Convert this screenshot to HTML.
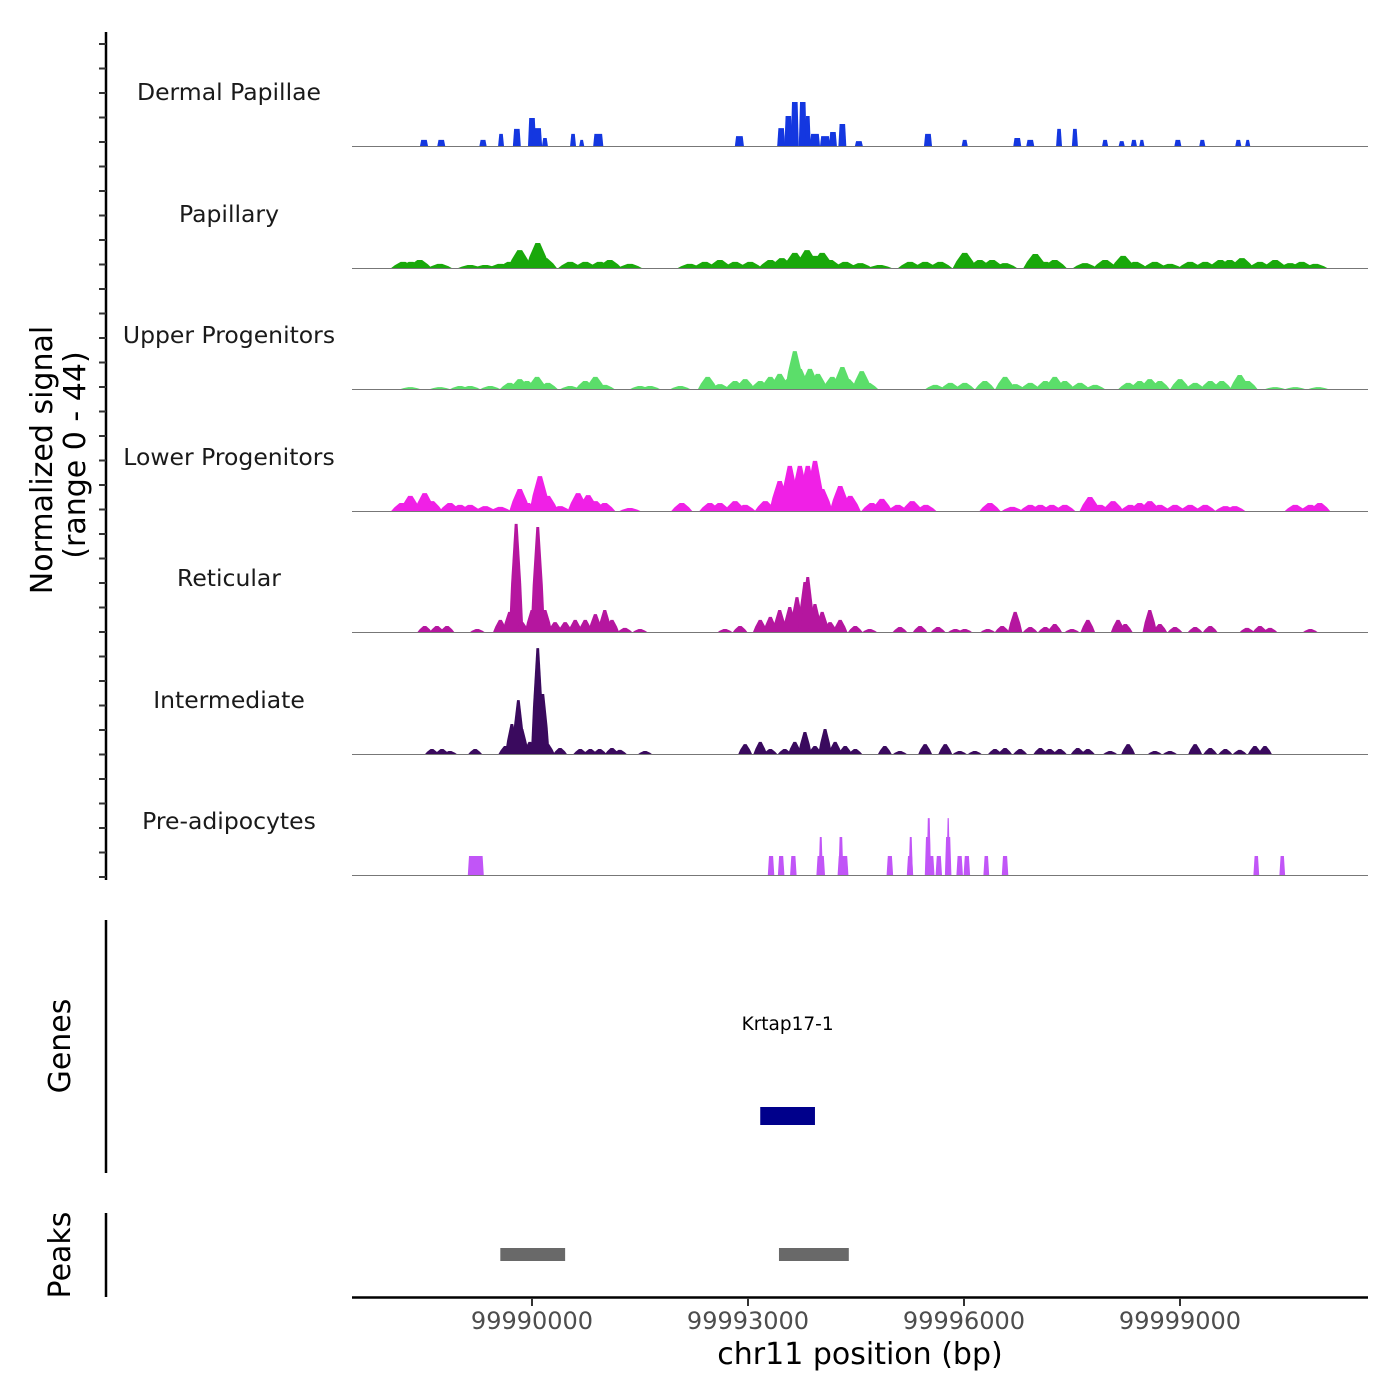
<!DOCTYPE html>
<html><head><meta charset="utf-8"><title>Coverage plot</title>
<style>
html,body{margin:0;padding:0;background:#fff;}
svg{display:block;font-family:"DejaVu Sans","Liberation Sans",sans-serif;}
</style></head>
<body>
<svg id="chart" width="1400" height="1400" viewBox="0 0 1400 1400" xmlns="http://www.w3.org/2000/svg">
<g id="tracks"></g>
<g id="axes"></g>
</svg>
<script>
const trackNames = ["Dermal Papillae","Papillary","Upper Progenitors","Lower Progenitors","Reticular","Intermediate","Pre-adipocytes"];
const trackColors = ["#1437e0","#19a80b","#5bde6a","#f020e6","#b5169f","#3a0a5e","#c155f7"];

const dpPos = [99988500,99988740,99989320,99989570,99989790,99990000,99990070,99990180,99990570,99990690,99990920,99992880,99993460,99993560,99993650,99993760,99993830,99993930,99994070,99994180,99994310,99994540,99995500,99996010,99996740,99996920,99997320,99997540,99997960,99998190,99998360,99998470,99998970,99999310,99999810,99999940];
const dpVal = [2.2,2.2,2.2,4.4,6.2,10.2,6.5,2.9,4.4,2.2,4.4,3.6,6.5,10.9,16,16,10.9,4.4,3.6,5.1,8,1.8,4.4,2.2,2.9,2.2,6.2,6.2,2.2,1.8,2.2,2.2,2.2,2.2,2.2,2.2];
const dpWidth = [110,110,100,83,110,110,140,83,83,70,140,125,110,110,110,110,83,140,140,110,110,110,110,83,110,110,83,83,83,83,83,70,97,83,83,70];

const papPos = [99988210,99988320,99988440,99988720,99989140,99989350,99989560,99989690,99989830,99990080,99990180,99990530,99990740,99990940,99991080,99991360,99992190,99992400,99992610,99992820,99993030,99993310,99993470,99993650,99993820,99993930,99994030,99994140,99994350,99994560,99994830,99995250,99995460,99995670,99996010,99996220,99996390,99996570,99996990,99997130,99997260,99997680,99997960,99998210,99998380,99998650,99998860,99999140,99999350,99999560,99999690,99999860,100000110,100000320,100000530,100000690,100000880];
const papVal = [2.2,2.2,2.9,1.5,1.1,1.1,1.5,2.2,6.5,9.1,3.6,2.2,2.2,2.2,2.9,1.5,1.5,2.2,2.9,2.2,2.2,2.9,3.6,5.5,6.5,4.4,5.5,2.9,2.2,1.8,1.1,2.2,2.2,2.2,5.5,2.9,2.9,1.8,5.1,2.2,2.9,1.8,2.9,4.4,2.2,2.2,1.5,2.2,2.2,2.9,2.9,3.6,2.2,2.9,1.8,2.2,1.5];

const upPos = [99988310,99988720,99989000,99989140,99989420,99989690,99989830,99989930,99990070,99990220,99990530,99990740,99990880,99991010,99991500,99991640,99992060,99992440,99992610,99992820,99992960,99993170,99993310,99993440,99993560,99993650,99993720,99993860,99993970,99994170,99994310,99994390,99994580,99994670,99995600,99995810,99996010,99996290,99996570,99996710,99996920,99997130,99997260,99997400,99997610,99997820,99998280,99998440,99998580,99998720,99999000,99999210,99999420,99999580,99999830,99999940,100000320,100000600,100000920];
const upVal = [0.7,0.7,1.1,1.1,1.1,2.2,3.6,2.9,4.4,2.2,1.1,2.9,4.4,1.5,1.1,1.1,1.1,4.4,1.8,2.9,3.6,2.9,4.4,5.5,3.6,13.8,7.3,7.3,5.5,4.4,8,3.6,6.5,2.2,1.5,2.2,2.2,2.9,4.4,1.8,2.2,2.9,4.4,2.9,2.2,1.5,2.2,2.9,3.6,2.9,3.6,2.2,2.9,2.9,5.1,2.9,0.7,0.7,0.7];

const lpPos = [99988190,99988310,99988510,99988610,99988860,99989000,99989140,99989350,99989560,99989830,99989940,99990110,99990220,99990390,99990640,99990780,99990880,99991010,99991360,99992080,99992470,99992610,99992820,99992960,99993240,99993440,99993580,99993720,99993830,99993930,99994030,99994280,99994420,99994720,99994860,99995080,99995280,99995470,99996360,99996670,99996920,99997060,99997220,99997400,99997750,99997890,99998070,99998310,99998440,99998580,99998720,99998930,99999140,99999350,99999630,99999760,100000600,100000810,100000940];
const lpVal = [2.9,5.5,6.5,3.6,2.9,2.2,2.2,1.8,1.5,8,2.9,12.7,5.5,1.8,6.5,5.8,3.6,2.9,1.1,2.9,2.9,2.9,3.6,2.2,3.6,10.9,16.4,16.4,16.4,18.2,8,9.1,5.5,2.9,4.4,2.2,3.6,2.2,2.9,1.5,2.2,2.2,2.2,2.2,5.1,2.2,3.6,2.2,2.9,3.6,2.2,2.2,2.2,2.2,1.8,1.8,2.2,2.2,2.9];

const retPos = [99988510,99988680,99988820,99989240,99989560,99989690,99989780,99989860,99990000,99990080,99990180,99990320,99990460,99990600,99990740,99990880,99991010,99991110,99991290,99991500,99992680,99992890,99993170,99993310,99993440,99993580,99993680,99993790,99993830,99993930,99994030,99994140,99994280,99994490,99994690,99995110,99995390,99995640,99995880,99996010,99996330,99996530,99996710,99996920,99997130,99997260,99997500,99997720,99998140,99998240,99998580,99998720,99998930,99999210,99999420,99999930,100000110,100000250,100000810];
const retVal = [2.2,2.2,2.2,1.1,4.4,7.3,39.3,3.6,8,38.2,8,3.6,3.6,4.4,4.4,6.5,8,4.4,1.5,1.1,1.1,2.2,4.4,5.5,8,9.1,12.7,18.2,20,10.2,7.3,3.6,4.4,2.2,1.1,1.8,2.2,1.8,1.1,1.1,1.1,2.2,7.3,1.8,1.8,2.9,1.1,4.4,4.4,2.9,8,2.9,1.8,1.8,2.2,1.5,2.2,1.5,1.1];

const intPos = [99988610,99988750,99988860,99989210,99989630,99989720,99989810,99989860,99989970,99990080,99990150,99990220,99990390,99990670,99990810,99990940,99991110,99991220,99991570,99992960,99993170,99993310,99993510,99993650,99993790,99993930,99994070,99994210,99994350,99994490,99994900,99995110,99995460,99995740,99995940,99996150,99996430,99996570,99996780,99997060,99997190,99997330,99997580,99997720,99998030,99998280,99998650,99998860,99999210,99999420,99999630,99999830,100000040,100000180];
const intVal = [1.8,1.8,1.1,1.8,2.9,10.9,19.6,9.1,4.4,38.5,21.8,3.6,2.2,1.8,1.8,1.8,2.2,1.5,1.1,3.6,4.4,1.8,1.8,4.4,8,2.9,9.1,4.4,2.9,1.8,2.9,1.1,3.6,3.6,1.1,1.1,1.8,2.2,1.8,2.2,1.8,1.8,2.2,1.8,1.1,3.6,1.1,1.1,3.6,2.2,1.8,1.5,2.9,2.9];

const prePos = [99989220,99993320,99993460,99993630,99994010,99994010,99994320,99994290,99994970,99995250,99995260,99995500,99995510,99995530,99995650,99995780,99995780,99995940,99996040,99996310,99996570,100000060,100000420];
const preVal = [6.9,6.9,6.9,6.9,6.9,13.8,6.9,13.8,6.9,6.9,13.8,13.8,20.7,6.9,6.9,13.8,20.7,6.9,6.9,6.9,6.9,6.9,6.9];
const preWidth = [222,90,90,90,120,60,150,70,90,90,60,90,60,120,90,90,50,90,90,80,90,80,80];

const trackPos = [dpPos,papPos,upPos,lpPos,retPos,intPos,prePos];
const trackVal = [dpVal,papVal,upVal,lpVal,retVal,intVal,preVal];
const trackWidth = [dpWidth,330,270,290,200,190,preWidth];
const blockTrack = [true,false,false,false,false,false,true];

const xTicks = [99990000,99993000,99996000,99999000];
const xTickLabels = ["99990000","99993000","99996000","99999000"];
const geneStart = [99993170];
const geneEnd = [99993930];
const geneNames = ["Krtap17-1"];
const peakStart = [99989560,99993430];
const peakEnd = [99990460,99994400];

const X0 = 352, X1 = 1368, BP0 = 99987500, BP1 = 100001611;
function xs(bp){ return X0 + (bp - BP0) / (BP1 - BP0) * (X1 - X0); }
const baselines = [146,268,389,511,632,754,875];
const trackH = 121, yMax = 44;
function ys(v, t){ return baselines[t] - v / yMax * trackH; }

const NS = "http://www.w3.org/2000/svg";
function mk(tag, attrs, parent){
  const el = document.createElementNS(NS, tag);
  for (const k in attrs) el.setAttribute(k, attrs[k]);
  parent.appendChild(el);
  return el;
}
const gT = document.getElementById('tracks');
const gA = document.getElementById('axes');

for (let t = 0; t < 7; t++) {
  const g = mk('g', {}, gT);
  
  
  const lab = mk('text', {x:229, y:baselines[t]-46, 'text-anchor':'middle', 'font-size':23.5, fill:'#1a1a1a'}, g);
  lab.textContent = trackNames[t];
  
  
  const pos = trackPos[t], val = trackVal[t];
  for (let i = 0; i < pos.length; i++) {
    const w = Array.isArray(trackWidth[t]) ? trackWidth[t][i] : trackWidth[t];
    const xl = xs(pos[i] - w/2), xr = xs(pos[i] + w/2);
    const y0 = baselines[t], y1 = ys(val[i], t);
    let pts;
    if (blockTrack[t]) {
      const s = Math.min(1.2, (xr-xl)/3);
      pts = [[xl,y0],[xl+s,y1],[xr-s,y1],[xr,y0]];
    } else {
      const c = xs(pos[i]), q = (xr-xl)*0.1;
      pts = [[xl,y0],[xl+(xr-xl)*0.15,ys(val[i]*0.45,t)],[c-q,y1],[c+q,y1],[xr-(xr-xl)*0.15,ys(val[i]*0.45,t)],[xr,y0]];
    }
    const p = mk('polygon', {points: pts.map(a=>a[0].toFixed(1)+','+a[1].toFixed(1)).join(' '), fill: trackColors[t]}, g);
    
    
  }
  const bl = mk('line', {x1:X0, x2:X1, y1:baselines[t]+0.5, y2:baselines[t]+0.5, stroke:'#777', 'stroke-width':1}, g);
  
  
}

const ya = mk('line', {x1:106, x2:106, y1:32, y2:880, stroke:'#000', 'stroke-width':2.5}, gA);


for (let y = 44; y <= 878; y += 24.5) {
  const tk = mk('line', {x1:99, x2:106, y1:y, y2:y, stroke:'#333', 'stroke-width':2}, gA);
  
  
}
const yt = mk('text', {transform:'translate(52,460) rotate(-90)', 'text-anchor':'middle', 'font-size':30, fill:'#000'}, gA);
yt.textContent = 'Normalized signal';


const yt2 = mk('text', {transform:'translate(85,455) rotate(-90)', 'text-anchor':'middle', 'font-size':30, fill:'#000'}, gA);
yt2.textContent = '(range 0 - 44)';



const ga = mk('line', {x1:106, x2:106, y1:920, y2:1173, stroke:'#000', 'stroke-width':2.5}, gA);


const gl = mk('text', {transform:'translate(70,1046) rotate(-90)', 'text-anchor':'middle', 'font-size':30, fill:'#000'}, gA);
gl.textContent = 'Genes';


for (let i = 0; i < geneStart.length; i++) {
  const r = mk('rect', {x:xs(geneStart[i]), y:1107, width:xs(geneEnd[i])-xs(geneStart[i]), height:18, fill:'#00008b'}, gA);
  
  
  const tx = mk('text', {x:(xs(geneStart[i])+xs(geneEnd[i]))/2, y:1030, 'text-anchor':'middle', 'font-size':18.5, fill:'#000'}, gA);
  tx.textContent = geneNames[i];
  
  
}

const pa = mk('line', {x1:106, x2:106, y1:1213, y2:1297, stroke:'#000', 'stroke-width':2.5}, gA);


const pl = mk('text', {transform:'translate(70,1255) rotate(-90)', 'text-anchor':'middle', 'font-size':30, fill:'#000'}, gA);
pl.textContent = 'Peaks';


for (let i = 0; i < peakStart.length; i++) {
  const r = mk('rect', {x:xs(peakStart[i]), y:1248, width:xs(peakEnd[i])-xs(peakStart[i]), height:13, fill:'#696969'}, gA);
  
  
}

const xa = mk('line', {x1:X0, x2:X1, y1:1297.5, y2:1297.5, stroke:'#000', 'stroke-width':2.5}, gA);


for (let i = 0; i < xTicks.length; i++) {
  const x = xs(xTicks[i]);
  const tk = mk('line', {x1:x, x2:x, y1:1298, y2:1306, stroke:'#333', 'stroke-width':2}, gA);
  
  
  const tl = mk('text', {x:x, y:1329, 'text-anchor':'middle', 'font-size':24, fill:'#4d4d4d'}, gA);
  tl.textContent = xTickLabels[i];
  
  
}
const xt = mk('text', {x:860, y:1364, 'text-anchor':'middle', 'font-size':30, fill:'#000'}, gA);
xt.textContent = 'chr11 position (bp)';


</script>
</body></html>
